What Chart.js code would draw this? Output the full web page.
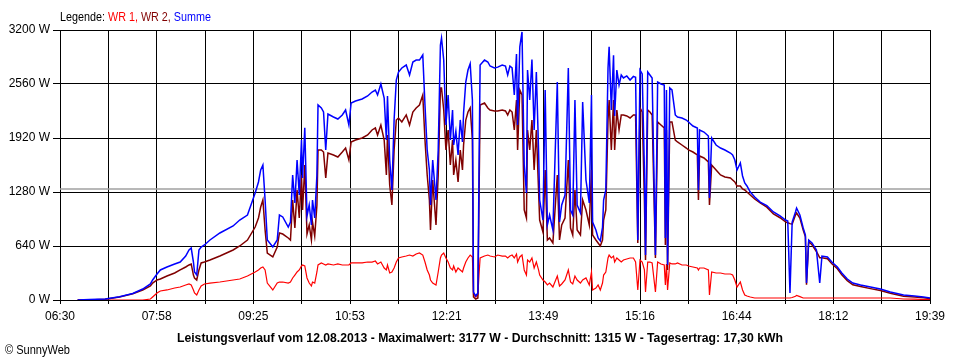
<!DOCTYPE html>
<html>
<head>
<meta charset="utf-8">
<title>SunnyWeb Leistungsverlauf</title>
<script src="https://cdn.jsdelivr.net/npm/chart.js@4"></script>
<style>
  body { margin: 0; background: #fff; }
  #wrap {
    position: relative; width: 960px; height: 360px;
    font-family: 'Liberation Sans', Arial, sans-serif;
    font-size: 13px; line-height: 15px; color: #000;
  }
  #chart { position: absolute; left: 0; top: 0; }
  .fit { position: absolute; white-space: pre; transform-origin: 0 0; }
  #legend { left: 60px; top: 9px; }
  #caption { left: 177px; top: 330px; font-weight: bold; }
  #copy { left: 5px; top: 342px; }
</style>
</head>
<body>
<div id="wrap">
  <canvas id="chart" width="960" height="360"></canvas>
  <div id="legend" class="fit" data-width="151">Legende: <span style="color:#ff0000">WR 1,</span> <span style="color:#800000">WR 2,</span> <span style="color:#0000ff">Summe</span></div>
  <div id="caption" class="fit" data-width="606">Leistungsverlauf vom 12.08.2013 - Maximalwert: 3177 W - Durchschnitt: 1315 W - Tagesertrag: 17,30 kWh</div>
  <div id="copy" class="fit" data-width="65">&copy; SunnyWeb</div>
</div>
<script>
// time of day in minutes since midnight, power in W
const times = [
  406, 417, 431, 444, 456, 465, 472, 474, 478, 481, 487, 494, 499, 504, 507, 509, 511, 512, 514, 516,
  518, 521, 526, 535, 547, 553, 560, 567, 570, 572, 574, 576, 578, 583, 587, 589, 592, 597,
  599, 601, 603, 605, 607, 609, 610, 612, 614, 616, 618, 619, 621, 623, 624, 627, 629, 631, 633, 638,
  642, 646, 649, 652, 654, 658, 664, 669, 673, 676, 678, 681, 684, 686, 687, 689, 691, 693, 695, 697,
  700, 704, 707, 710, 713, 716, 719, 721, 723, 725, 726, 728, 731, 733,
  735, 736, 738, 740, 742, 744, 746, 747, 749, 751, 753, 755, 756, 758, 760, 762, 764, 765, 767, 769,
  770, 771, 775, 778, 780, 784, 787, 791, 794, 796, 798, 800, 802, 804, 805, 807, 809, 811, 813, 814,
  816, 818, 820, 822, 824, 825, 828, 830, 832, 834, 837, 841, 843, 845, 848, 851, 853, 855, 857, 859,
  862, 864, 867, 870, 872, 873, 876, 878, 880, 882, 883, 885, 887, 888, 890, 892, 893, 895, 897, 899,
  901, 904, 907, 910, 912, 914, 916, 918, 920, 921, 923, 925, 927, 930, 932, 935, 938, 939, 940, 941,
  943, 945, 948, 950, 954, 958, 960, 964, 968, 969, 970, 974, 978, 979, 981, 985, 989, 993, 998, 1000,
  1002, 1004, 1007, 1009, 1011, 1013, 1016, 1020, 1025, 1031, 1037, 1043, 1048, 1050, 1052, 1054, 1057, 1058, 1061, 1064,
  1066, 1067, 1069, 1072, 1076, 1079, 1081, 1086, 1090, 1095, 1099, 1104, 1109, 1116, 1125, 1134, 1143, 1155, 1165, 1173,
  1179
];

const wr1 = [
  0, 0, 0, 0, 0, 0, 12, 36, 83, 107, 119, 142, 154, 178, 190, 178, 119, 83, 59, 119,
  166, 190, 201, 213, 237, 249, 284, 332, 356, 379, 391, 356, 201, 119, 201, 213, 213, 201,
  213, 261, 296, 332, 356, 403, 415, 403, 261, 201, 166, 213, 201, 332, 415, 439, 427, 415, 427, 415,
  427, 415, 415, 415, 439, 439, 439, 450, 450, 462, 427, 450, 379, 356, 415, 320, 332, 379, 450, 498,
  510, 521, 533, 521, 545, 557, 533, 450, 356, 296, 237, 201, 178, 332,
  498, 533, 557, 498, 450, 379, 356, 403, 332, 379, 356, 332, 379, 450, 498, 533, 510, 59, 36, 59,
  296, 498, 521, 533, 521, 510, 533, 521, 521, 498, 521, 533, 498, 545, 450, 510, 533, 356, 296, 474,
  450, 498, 379, 450, 356, 296, 237, 213, 178, 201, 154, 284, 166, 190, 237, 356, 213, 190, 284, 237,
  201, 237, 261, 178, 332, 119, 142, 178, 119, 201, 296, 332, 498, 533, 498, 521, 450, 498, 474, 450,
  474, 486, 498, 498, 450, 119, 474, 450, 356, 95, 450, 450, 439, 95, 450, 427, 415, 178, 427, 119,
  439, 427, 427, 439, 415, 415, 403, 391, 379, 356, 379, 379, 356, 59, 332, 320, 320, 308, 308, 296,
  237, 154, 213, 119, 59, 47, 36, 24, 24, 24, 24, 24, 24, 24, 24, 30, 45, 55, 40, 24,
  24, 24, 24, 24, 24, 24, 24, 24, 24, 24, 24, 24, 24, 24, 24, 24, 24, 12, 10, 6,
  5
];

const wr2 = [
  0, 0, 10, 36, 75, 119, 166, 201, 237, 249, 284, 320, 356, 391, 415, 427, 296, 261, 237, 356,
  439, 450, 474, 521, 593, 640, 711, 865, 972, 1102, 1185, 830, 557, 510, 628, 794, 782, 735,
  711, 1185, 853, 1304, 972, 1482, 1067, 1600, 782, 889, 711, 924, 759, 1126, 1778, 1778, 1754, 1446, 1742, 1719,
  1695, 1754, 1801, 1659, 1873, 1896, 1920, 1956, 2015, 2039, 1956, 2074, 1896, 1482, 1956, 1363, 1126, 1778, 2133, 2157,
  2110, 2193, 2074, 2228, 2276, 2311, 2430, 1896, 1482, 1185, 830, 1422, 889, 1482,
  2513, 2513, 2252, 1778, 2015, 1600, 1896, 1482, 1659, 1399, 1778, 1541, 1837, 2133, 2228, 2276, 1896, 36, 12, 24,
  1185, 2311, 2335, 2276, 2252, 2240, 2240, 2252, 2240, 2193, 2252, 2228, 2015, 2370, 1778, 2489, 2430, 1067, 972, 2015,
  1778, 2133, 1541, 2015, 1304, 948, 806, 1541, 711, 735, 676, 1482, 711, 889, 972, 1659, 853, 770, 1304, 830,
  770, 1185, 1067, 889, 1541, 770, 711, 676, 640, 711, 948, 1067, 2133, 2370, 1778, 2370, 1778, 2252, 2015, 2193,
  2193, 2181, 2157, 2193, 2193, 676, 2276, 2228, 1185, 474, 2252, 2228, 2193, 498, 2110, 2074, 2039, 652, 2015, 356,
  2110, 2110, 1896, 1873, 1837, 1801, 1778, 1754, 1719, 1185, 1707, 1683, 1636, 1126, 1600, 1541, 1482, 1458, 1446, 1422,
  1399, 1351, 1351, 1316, 1304, 1280, 1244, 1197, 1150, 1100, 1020, 975, 925, 915, 905, 900, 1007, 1031, 972, 830,
  750, 180, 690, 655, 575, 500, 500, 490, 430, 370, 300, 230, 180, 160, 135, 112, 80, 45, 35, 28,
  18
];

const summe = [
  0, 6, 12, 38, 78, 130, 190, 237, 308, 356, 391, 427, 450, 521, 593, 616, 450, 332, 296, 593,
  628, 652, 711, 794, 877, 948, 1007, 1268, 1399, 1541, 1600, 1185, 711, 628, 711, 1007, 984, 865,
  924, 1482, 1150, 1659, 1244, 1896, 1446, 2040, 996, 1126, 889, 1185, 972, 1482, 2311, 2276, 2228, 1778, 2204, 2169,
  2145, 2193, 2252, 2074, 2335, 2359, 2382, 2418, 2465, 2489, 2430, 2560, 2394, 1896, 2418, 1659, 1304, 2133, 2607, 2702,
  2750, 2785, 2667, 2821, 2844, 2844, 2904, 2311, 1778, 1541, 1126, 1659, 1185, 1778,
  3022, 3105, 2844, 2074, 2430, 1896, 2252, 1837, 2000, 1720, 2134, 1873, 2216, 2583, 2726, 2800, 2370, 95, 47, 83,
  1541, 2785, 2844, 2821, 2773, 2750, 2760, 2785, 2773, 2667, 2773, 2750, 2430, 2915, 2074, 3000, 3177, 1600, 1268, 2726,
  2370, 2850, 2015, 2702, 1778, 1185, 948, 2489, 889, 1007, 830, 2584, 924, 1126, 1244, 2750, 1067, 1007, 2370, 1126,
  1031, 2347, 1422, 1150, 2430, 924, 830, 735, 700, 860, 1185, 1304, 2750, 3000, 2252, 2900, 2180, 2726, 2548, 2667,
  2631, 2655, 2607, 2650, 2640, 711, 2726, 2680, 1541, 533, 2702, 2667, 2631, 533, 2584, 2560, 2548, 735, 2489, 415,
  2513, 2489, 2193, 2169, 2157, 2133, 2110, 2062, 2039, 1304, 2015, 1991, 1944, 1209, 1920, 1837, 1801, 1778, 1742, 1719,
  1659, 1541, 1624, 1470, 1387, 1351, 1280, 1221, 1161, 1120, 1043, 996, 948, 936, 83, 924, 1043, 1090, 1007, 853,
  770, 201, 711, 676, 593, 201, 521, 510, 450, 391, 320, 249, 201, 178, 154, 130, 95, 59, 47, 36,
  24
];

const average = 1315;
const timeLabels = ['06:30', '07:58', '09:25', '10:53', '12:21', '13:49', '15:16', '16:44', '18:12', '19:39'];
const powerTicks = [0, 640, 1280, 1920, 2560, 3200];
const dayStart = 390;
const dayEnd = 1179;

const fontFamily = "'Liberation Sans', Arial, sans-serif";

// squeeze the html texts to the narrow width of the original bitmap font
document.querySelectorAll('.fit').forEach((el) => {
  const w = el.getBoundingClientRect().width;
  el.style.transform = 'scaleX(' + (Number(el.dataset.width) / w) + ')';
});

function toPoints(values) {
  return times.map((t, i) => ({ x: t, y: values[i] }));
}

new Chart(document.getElementById('chart'), {
  type: 'line',
  data: {
    datasets: [
      { label: 'Summe', data: toPoints(summe), borderColor: '#0000ff', borderWidth: 1.5, order: 1 },
      { label: 'WR 2', data: toPoints(wr2), borderColor: '#800000', borderWidth: 1.5, order: 2 },
      { label: 'WR 1', data: toPoints(wr1), borderColor: '#ff0000', borderWidth: 1.2, order: 3 },
      {
        label: 'Durchschnitt',
        data: [{ x: dayStart, y: average }, { x: dayEnd, y: average }],
        borderColor: '#a0a0a0', borderWidth: 1.5, order: 4
      }
    ]
  },
  options: {
    responsive: false,
    animation: false,
    devicePixelRatio: 1,
    elements: { point: { radius: 0 }, line: { tension: 0, fill: false } },
    layout: { padding: { top: 30, right: 30, left: 0, bottom: 0 } },
    plugins: { legend: { display: false }, tooltip: { enabled: false } },
    scales: {
      x: {
        type: 'linear',
        min: dayStart,
        max: dayEnd,
        afterBuildTicks: (axis) => {
          // 18 grid intervals, a label on every second one
          const step = (dayEnd - dayStart) / 18;
          axis.ticks = [];
          for (let i = 0; i <= 18; i++) axis.ticks.push({ value: dayStart + i * step });
        },
        afterFit: (axis) => { axis.height = 60; },
        grid: { color: '#000', lineWidth: 1, tickLength: 4 },
        border: { color: '#000' },
        ticks: {
          autoSkip: false, maxRotation: 0, padding: 5, color: '#000',
          font: { family: fontFamily, size: 12 },
          callback: (v, i) => (i % 2 === 0 ? timeLabels[i / 2] : '')
        }
      },
      y: {
        min: 0,
        max: 3200,
        afterBuildTicks: (axis) => { axis.ticks = powerTicks.map((v) => ({ value: v })); },
        afterFit: (axis) => { axis.width = 60; },
        grid: { color: '#000', lineWidth: 1, tickLength: 7 },
        border: { color: '#000' },
        ticks: {
          padding: 3, color: '#000',
          font: { family: fontFamily, size: 12 },
          callback: (v) => v + ' W'
        }
      }
    }
  }
});
</script>
</body>
</html>
